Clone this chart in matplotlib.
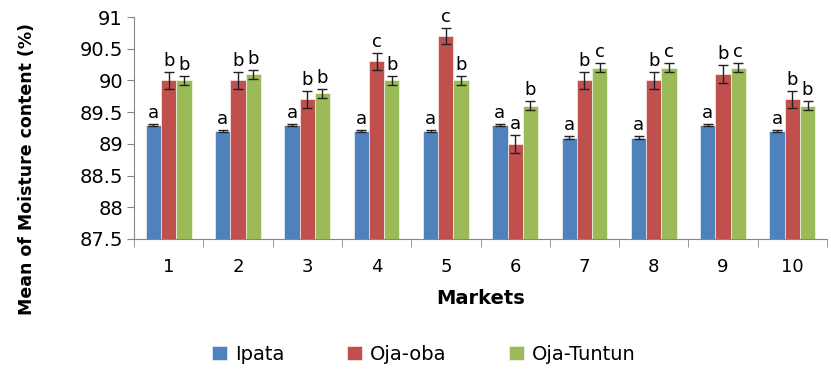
import numpy as np
import matplotlib
matplotlib.use("Agg")
import matplotlib.pyplot as plt

markets = ["1", "2", "3", "4", "5", "6", "7", "8", "9", "10"]
series = ["Ipata", "Oja-oba", "Oja-Tuntun"]

ipata = [89.3, 89.2, 89.3, 89.2, 89.2, 89.3, 89.1, 89.1, 89.3, 89.2]
oja_oba = [90.0, 90.0, 89.7, 90.3, 90.7, 89.0, 90.0, 90.0, 90.1, 89.7]
oja_tuntun = [90.0, 90.1, 89.8, 90.0, 90.0, 89.6, 90.2, 90.2, 90.2, 89.6]

ipata_err = [0.02, 0.02, 0.02, 0.02, 0.02, 0.02, 0.02, 0.02, 0.02, 0.02]
oja_oba_err = [0.14, 0.14, 0.14, 0.13, 0.13, 0.14, 0.14, 0.14, 0.14, 0.14]
oja_tuntun_err = [0.07, 0.07, 0.07, 0.07, 0.07, 0.07, 0.07, 0.07, 0.07, 0.07]

ipata_letters = ["a"] * 10
oja_oba_letters = ["b", "b", "b", "c", "c", "a", "b", "b", "b", "b"]
oja_tuntun_letters = ["b", "b", "b", "b", "b", "b", "c", "c", "c", "b"]

colors = ["#4F81BD", "#C0504D", "#9BBB59"]

fig = plt.figure(figsize=(8.31, 3.71), dpi=100)
ax = fig.add_axes([134 / 831, 1 - 239 / 371, 693 / 831, 222 / 371])

x = np.arange(1, len(markets) + 1)
width = 0.22
ybase = 87.5
groups = [
    (ipata, ipata_err, ipata_letters),
    (oja_oba, oja_oba_err, oja_oba_letters),
    (oja_tuntun, oja_tuntun_err, oja_tuntun_letters),
]
for i, (vals, errs, letters) in enumerate(groups):
    xs = x + (i - 1) * width
    heights = np.array(vals) - ybase
    ax.bar(xs, heights, width, bottom=ybase, color=colors[i],
           edgecolor="white", linewidth=0.4, label=series[i], zorder=2)
    ax.errorbar(xs, vals, yerr=errs, fmt="none", ecolor="#222222",
                elinewidth=1.0, capsize=3.5, capthick=1.0, zorder=3)
    for xx, v, e, t in zip(xs, vals, errs, letters):
        ax.text(xx, v + e + 0.03, t, ha="center", va="bottom",
                fontsize=13, color="black")

ax.set_xlim(0.5, len(markets) + 0.5)
ax.set_ylim(87.5, 91)
ax.set_yticks(np.arange(87.5, 91.01, 0.5))
ax.set_yticklabels(["87.5", "88", "88.5", "89", "89.5", "90", "90.5", "91"])
ax.set_xticks(x)
ax.set_xticklabels(markets, fontsize=13)
ax.set_xticks(np.arange(0.5, len(markets) + 1, 1), minor=True)
ax.tick_params(axis="x", which="major", length=0, pad=14)
ax.tick_params(axis="x", which="minor", length=6, color="#868686", direction="out")
ax.tick_params(axis="y", length=5, color="#868686", labelsize=14, pad=3)

for side in ["top", "right"]:
    ax.spines[side].set_visible(False)
for side in ["left", "bottom"]:
    ax.spines[side].set_color("#868686")

ax.set_xlabel("Markets", fontsize=14, fontweight="bold", labelpad=9)
fig.text(0.033, 0.545, "Mean of Moisture content (%)", rotation=90,
         ha="center", va="center", fontsize=12.5, fontweight="bold")

handles, labels = ax.get_legend_handles_labels()
fig.legend(handles, labels, loc="center", bbox_to_anchor=(0.51, 0.045),
           ncol=3, frameon=False, fontsize=14, handlelength=0.8,
           handleheight=0.8, handletextpad=0.4, columnspacing=3.2)

fig.savefig("out.png", dpi=100)
